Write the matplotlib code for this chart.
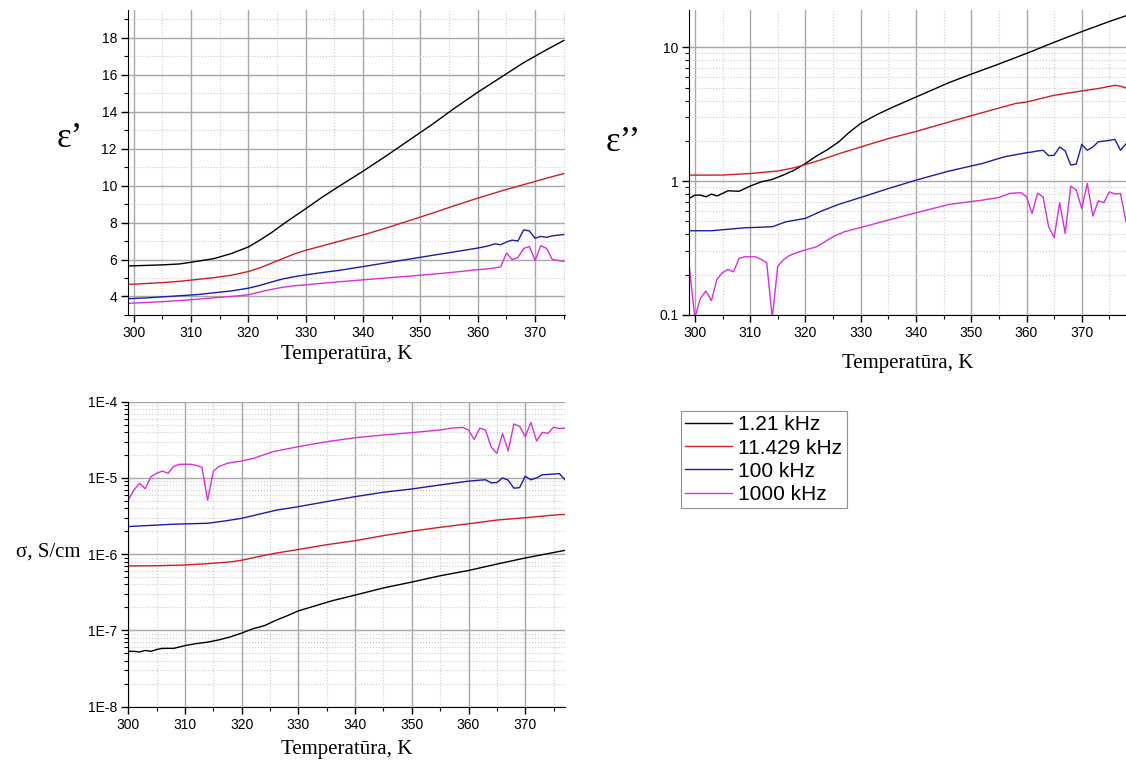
import numpy as np
import matplotlib.pyplot as plt
from matplotlib.ticker import MultipleLocator, LogLocator, FuncFormatter, NullFormatter
plt.switch_backend('agg')

plt.rcParams['font.family'] = ['Liberation Sans', 'DejaVu Sans']

freqs = ['1.21 kHz', '11.429 kHz', '100 kHz', '1000 kHz']
colors = ['#000000', '#cc2020', '#1c1ca8', '#d830d8']

####eps' (top left)####
t_e1 = [299, 302, 305, 308, 311, 314, 317, 320, 322, 324, 326, 328, 330, 333, 336,
        340, 344, 348, 352, 356, 360, 364, 368, 372, 375]
e1_121 = [5.65, 5.68, 5.71, 5.76, 5.9, 6.05, 6.32, 6.68, 7.05, 7.45, 7.9, 8.33, 8.75, 9.4, 10.0,
          10.78, 11.6, 12.45, 13.3, 14.2, 15.05, 15.85, 16.65, 17.35, 17.85]
e1_11429 = [4.65, 4.7, 4.75, 4.82, 4.92, 5.02, 5.15, 5.35, 5.55, 5.8, 6.05, 6.3, 6.5, 6.75, 7.0,
            7.33, 7.7, 8.1, 8.5, 8.92, 9.32, 9.7, 10.05, 10.4, 10.65]
t_e1_b = [299, 302, 305, 308, 311, 314, 317, 320, 322, 324, 326, 328, 330, 333, 336,
          340, 344, 348, 352, 356, 360, 361, 362, 363, 364, 365, 366, 367, 368, 369,
          370, 371, 372, 373, 374, 375]
e1_100 = [3.88, 3.92, 3.98, 4.04, 4.1, 4.2, 4.3, 4.45, 4.6, 4.78, 4.95, 5.07, 5.17, 5.3, 5.42,
          5.62, 5.82, 6.02, 6.22, 6.42, 6.62, 6.68, 6.75, 6.85, 6.8, 6.95, 7.05, 7.0, 7.6, 7.55,
          7.15, 7.25, 7.2, 7.28, 7.32, 7.35]
t_e1_m = [299, 302, 305, 308, 311, 314, 317, 320, 322, 324, 326, 328, 330, 333, 336,
          340, 344, 348, 352, 356, 360, 362, 363, 364, 365, 366, 367, 368, 369, 370,
          371, 372, 373, 374, 375]
e1_1000 = [3.63, 3.67, 3.72, 3.78, 3.85, 3.93, 4.0, 4.09, 4.25, 4.38, 4.5, 4.58, 4.63, 4.72, 4.8,
           4.9, 5.0, 5.1, 5.2, 5.32, 5.45, 5.5, 5.55, 5.6, 6.35, 6.0, 6.1, 6.6, 6.7, 5.95,
           6.75, 6.6, 6.0, 5.95, 5.9]

####eps'' (top right)####
t_e2_k = [299, 300, 301, 302, 303, 304, 305, 306, 308, 310, 312, 314, 316, 318, 320,
          322, 324, 326, 328, 330, 333, 336, 340, 346, 350, 355, 360, 365, 370, 375, 378]
e2_121 = [0.743, 0.786, 0.786, 0.764, 0.80, 0.775, 0.81, 0.847, 0.84, 0.918, 0.988, 1.03, 1.11, 1.21, 1.355,
          1.54, 1.72, 1.96, 2.33, 2.7, 3.15, 3.6, 4.25, 5.45, 6.3, 7.5, 9.0, 10.9, 13.1, 15.6, 17.2]
t_e2_r = [299, 305, 310, 315, 318, 320, 323, 326, 330, 335, 340, 346, 352, 358, 360,
          365, 370, 373, 376, 377, 378]
e2_11429 = [1.109, 1.11, 1.14, 1.19, 1.26, 1.33, 1.45, 1.6, 1.8, 2.08, 2.35, 2.77, 3.25, 3.8, 3.9,
            4.38, 4.72, 4.92, 5.2, 5.12, 4.97]
t_e2_b = [299, 303, 309, 314, 316.5, 320, 323, 326, 330, 335, 340, 346, 352, 356, 360,
          361, 362, 363, 364, 365, 366, 367, 368, 369, 370, 371, 372, 373, 374, 376, 377, 378]
e2_100 = [0.426, 0.426, 0.448, 0.456, 0.497, 0.527, 0.6, 0.67, 0.755, 0.88, 1.017, 1.19, 1.355, 1.52, 1.63,
          1.65, 1.68, 1.70, 1.55, 1.56, 1.80, 1.68, 1.32, 1.34, 1.88, 1.70, 1.80, 1.97, 1.99, 2.05, 1.70, 1.9]
t_e2_m = [299, 300, 301, 302, 303, 304, 305, 306, 307, 308, 309, 311, 312, 313, 314,
          315, 316, 317, 318, 320, 322, 325, 327, 330, 335, 340, 346, 352, 355, 357,
          359, 360, 361, 362, 363, 364, 365, 366, 367, 368, 369, 370, 371, 372, 373,
          374, 375, 376, 377, 378]
e2_1000 = [0.229, 0.095, 0.133, 0.151, 0.128, 0.185, 0.207, 0.219, 0.21, 0.265, 0.272, 0.272, 0.26, 0.246, 0.095,
           0.232, 0.258, 0.276, 0.288, 0.306, 0.323, 0.384, 0.418, 0.45, 0.512, 0.58, 0.67, 0.721, 0.755, 0.81,
           0.82, 0.764, 0.574, 0.81, 0.764, 0.456, 0.38, 0.689, 0.407, 0.918, 0.857, 0.625, 0.961, 0.548, 0.713,
           0.69, 0.832, 0.80, 0.81, 0.497]

####sigma (bottom left)####
t_s_k = [300, 301, 302, 303, 304, 305, 306, 308, 310, 312, 314, 316, 318, 320, 322,
         324, 326, 328, 330, 333, 336, 340, 345, 350, 355, 360, 365, 370, 375, 377]
s_121 = [5.3e-8, 5.3e-8, 5.2e-8, 5.45e-8, 5.3e-8, 5.6e-8, 5.8e-8, 5.8e-8, 6.3e-8, 6.7e-8, 7.0e-8, 7.5e-8, 8.2e-8, 9.2e-8, 1.05e-7,
         1.15e-7, 1.35e-7, 1.55e-7, 1.8e-7, 2.1e-7, 2.45e-7, 2.9e-7, 3.6e-7, 4.3e-7, 5.2e-7, 6.1e-7, 7.4e-7, 8.9e-7, 1.05e-6, 1.12e-6]
t_s_r = [300, 305, 310, 314, 318, 320, 323, 326, 330, 335, 340, 345, 350, 355, 360,
         365, 370, 373, 376, 377]
s_11429 = [7.0e-7, 7.05e-7, 7.2e-7, 7.5e-7, 7.9e-7, 8.3e-7, 9.3e-7, 1.03e-6, 1.15e-6, 1.33e-6, 1.5e-6, 1.75e-6, 2.0e-6, 2.25e-6, 2.5e-6,
           2.8e-6, 3.0e-6, 3.15e-6, 3.3e-6, 3.3e-6]
t_s_b = [300, 308, 314, 317, 320, 323, 326, 330, 335, 340, 345, 350, 355, 360, 361,
         362, 363, 364, 365, 366, 367, 368, 369, 370, 371, 372, 373, 374, 376, 377]
s_100 = [2.3e-6, 2.47e-6, 2.54e-6, 2.72e-6, 2.95e-6, 3.33e-6, 3.76e-6, 4.2e-6, 4.89e-6, 5.68e-6, 6.49e-6, 7.16e-6, 8.09e-6, 9.07e-6, 9.2e-6,
         9.35e-6, 9.46e-6, 8.6e-6, 8.7e-6, 1.0e-5, 9.35e-6, 7.34e-6, 7.45e-6, 1.05e-5, 9.46e-6, 1.0e-5, 1.1e-5, 1.11e-5, 1.14e-5, 9.5e-6]
t_s_m = [300, 301, 302, 303, 304, 305, 306, 307, 308, 309, 311, 312, 313, 314, 315,
         316, 317.5, 320, 322, 325.5, 330, 335, 340, 345, 350, 355, 357, 359, 360, 361,
         362, 363, 364, 365, 366, 367, 368, 369, 370, 371, 372, 373, 374, 375, 376, 377]
s_1000 = [5.1e-6, 6.95e-6, 8.5e-6, 7.2e-6, 1.04e-5, 1.15e-5, 1.23e-5, 1.15e-5, 1.41e-5, 1.51e-5, 1.51e-5, 1.46e-5, 1.38e-5, 5.1e-6, 1.23e-5,
          1.41e-5, 1.56e-5, 1.67e-5, 1.8e-5, 2.21e-5, 2.57e-5, 2.99e-5, 3.37e-5, 3.66e-5, 3.93e-5, 4.26e-5, 4.5e-5, 4.6e-5, 4.25e-5, 3.2e-5,
          4.5e-5, 4.25e-5, 2.54e-5, 2.1e-5, 3.83e-5, 2.26e-5, 5.1e-5, 4.77e-5, 3.48e-5, 5.35e-5, 3.05e-5, 3.97e-5, 3.84e-5, 4.63e-5, 4.45e-5, 4.5e-5]


def style(ax):
    for s in ['top', 'right']:
        ax.spines[s].set_visible(False)
    ax.set_axisbelow(True)
    ax.xaxis.set_major_locator(MultipleLocator(10))
    ax.xaxis.set_minor_locator(MultipleLocator(5))
    ax.grid(which='major', color='#a8a8a8', lw=1.0, ls='-')
    ax.grid(which='minor', color='#cccccc', lw=0.8, ls=':')
    ax.tick_params(which='major', direction='out', length=5, width=1, labelsize=10, pad=3)
    ax.tick_params(which='minor', direction='out', length=3, width=0.8)


serif = ['Liberation Serif', 'DejaVu Serif']
fig = plt.figure(figsize=(11.26, 7.63), dpi=100)

####eps'####
ax1 = fig.add_axes([0.1137, 0.5872, 0.388, 0.3997])
ax1.plot(t_e1, e1_121, color=colors[0], lw=1.0)
ax1.plot(t_e1, e1_11429, color=colors[1], lw=1.0)
ax1.plot(t_e1_b, e1_100, color=colors[2], lw=1.0)
ax1.plot(t_e1_m, e1_1000, color=colors[3], lw=1.0)
ax1.set_xlim(299, 375.2)
ax1.set_ylim(3, 19.5)
ax1.yaxis.set_major_locator(MultipleLocator(2))
ax1.yaxis.set_minor_locator(MultipleLocator(1))
style(ax1)
ax1.set_xlabel('Temperatūra, K', family=serif, fontsize=15, va='top')
ax1.xaxis.set_label_coords(0.5, -0.098)
ax1.set_ylabel('ε’', family=serif, fontsize=25, rotation=0, ha='center', va='center')
ax1.yaxis.set_label_coords(-0.133, 0.577)

####eps''####
ax2 = fig.add_axes([0.6122, 0.5872, 0.3878, 0.3997])
ax2.plot(t_e2_k, e2_121, color=colors[0], lw=1.0)
ax2.plot(t_e2_r, e2_11429, color=colors[1], lw=1.0)
ax2.plot(t_e2_b, e2_100, color=colors[2], lw=1.0)
ax2.plot(t_e2_m, e2_1000, color=colors[3], lw=1.0)
ax2.set_yscale('log')
ax2.set_xlim(299, 378)
ax2.set_ylim(0.1, 19)
ax2.yaxis.set_major_locator(LogLocator(base=10))
ax2.yaxis.set_minor_locator(LogLocator(base=10, subs=np.arange(2, 10)))
ax2.yaxis.set_major_formatter(FuncFormatter(lambda v, p: '%g' % v))
ax2.yaxis.set_minor_formatter(NullFormatter())
style(ax2)
ax2.set_xlabel('Temperatūra, K', family=serif, fontsize=15, va='top')
ax2.xaxis.set_label_coords(0.5, -0.128)
ax2.set_ylabel('ε’’', family=serif, fontsize=25, rotation=0, ha='center', va='center')
ax2.yaxis.set_label_coords(-0.152, 0.567)

####sigma####
ax3 = fig.add_axes([0.1139, 0.074, 0.3878, 0.3995])
ax3.plot(t_s_k, s_121, color=colors[0], lw=1.0, label=freqs[0])
ax3.plot(t_s_r, s_11429, color=colors[1], lw=1.0, label=freqs[1])
ax3.plot(t_s_b, s_100, color=colors[2], lw=1.0, label=freqs[2])
ax3.plot(t_s_m, s_1000, color=colors[3], lw=1.0, label=freqs[3])
ax3.set_yscale('log')
ax3.set_xlim(300, 377)
ax3.set_ylim(1e-8, 1e-4)
ax3.yaxis.set_major_locator(LogLocator(base=10))
ax3.yaxis.set_minor_locator(LogLocator(base=10, subs=np.arange(2, 10)))
ax3.yaxis.set_major_formatter(FuncFormatter(lambda v, p: '1E%d' % round(np.log10(v))))
ax3.yaxis.set_minor_formatter(NullFormatter())
style(ax3)
ax3.set_xlabel('Temperatūra, K', family=serif, fontsize=15, va='top')
ax3.xaxis.set_label_coords(0.5, -0.109)
ax3.set_ylabel('σ, S/cm', family=serif, fontsize=15, rotation=0, ha='center', va='center')
ax3.yaxis.set_label_coords(-0.184, 0.508)

####legend####
leg = fig.legend(*ax3.get_legend_handles_labels(), loc='lower left',
                 bbox_to_anchor=(680.7 / 1126, 1 - 508 / 763), borderaxespad=0,
                 fontsize=15, frameon=True, fancybox=False, framealpha=1,
                 edgecolor='#909090', borderpad=0.2, labelspacing=0.2,
                 handlelength=2.25, handletextpad=0.32)
leg.get_frame().set_linewidth(0.8)

plt.savefig('out.png', dpi=100)
plt.close('all')
